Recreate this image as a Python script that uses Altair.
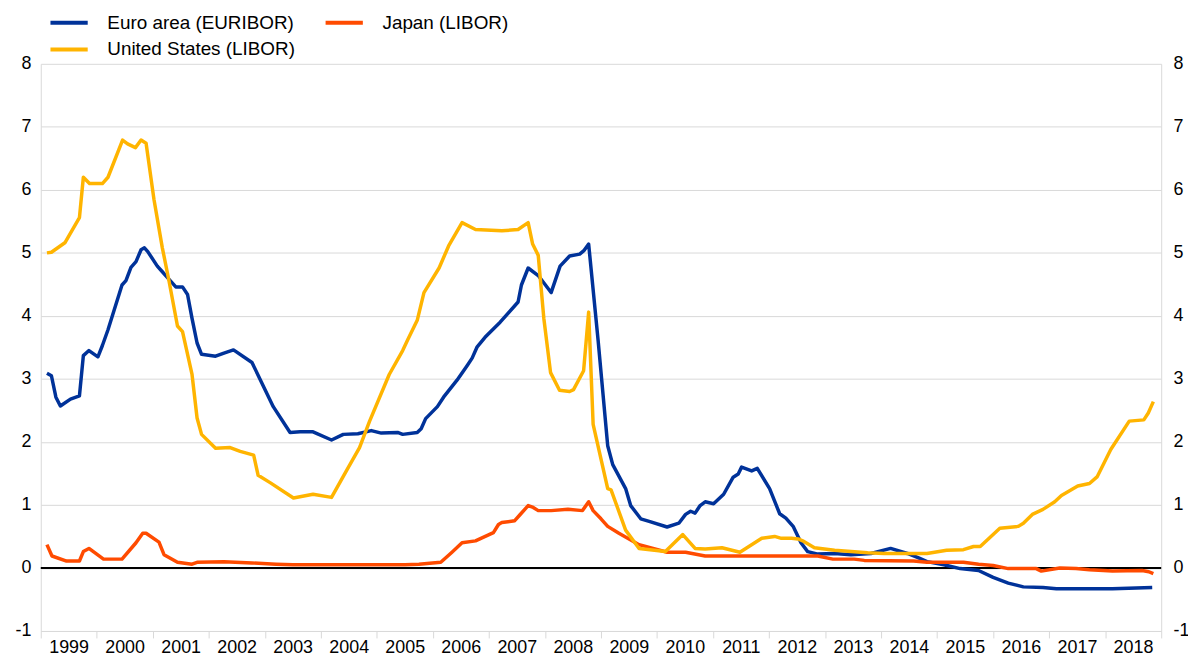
import altair as alt
import pandas as pd

SERIES = ["Euro area (EURIBOR)", "Japan (LIBOR)", "United States (LIBOR)"]
COLORS = ["#003299", "#FF4B00", "#FFB400"]
YEARS = list(range(1999, 2020))
Y_TICKS = list(range(-1, 9))

EURO_T = [1999.11, 1999.19, 1999.27, 1999.35, 1999.53, 1999.69, 1999.76, 1999.86, 2000.02, 2000.10,
          2000.20, 2000.45, 2000.52, 2000.61, 2000.70, 2000.79, 2000.85, 2000.91, 2001.08, 2001.17,
          2001.23, 2001.41, 2001.53, 2001.62, 2001.70, 2001.79, 2001.87, 2002.12, 2002.27, 2002.44,
          2002.77, 2003.15, 2003.45, 2003.63, 2003.86, 2004.19, 2004.40, 2004.66, 2004.90, 2005.08,
          2005.37, 2005.46, 2005.72, 2005.79, 2005.87, 2006.08, 2006.19, 2006.43, 2006.61, 2006.70,
          2006.79, 2006.93, 2007.20, 2007.52, 2007.58, 2007.70, 2007.88, 2008.11, 2008.27, 2008.44,
          2008.62, 2008.70, 2008.78, 2008.95, 2009.12, 2009.21, 2009.44, 2009.53, 2009.71, 2009.86,
          2010.18, 2010.39, 2010.51, 2010.60, 2010.68, 2010.77, 2010.86, 2011.01, 2011.19, 2011.36,
          2011.45, 2011.51, 2011.69, 2011.79, 2012.01, 2012.19, 2012.30, 2012.43, 2012.57, 2012.69,
          2012.87, 2013.17, 2013.46, 2013.82, 2014.17, 2014.47, 2014.67, 2014.82, 2015.12, 2015.41,
          2015.74, 2016.00, 2016.27, 2016.54, 2016.89, 2017.13, 2018.13, 2018.84]
EURO_V = [3.09, 3.05, 2.71, 2.57, 2.68, 2.73, 3.37, 3.45, 3.35, 3.53,
          3.78, 4.49, 4.56, 4.77, 4.86, 5.05, 5.08, 5.02, 4.79, 4.70,
          4.64, 4.46, 4.46, 4.34, 3.96, 3.57, 3.39, 3.36, 3.41, 3.46,
          3.26, 2.56, 2.15, 2.16, 2.16, 2.03, 2.12, 2.13, 2.18, 2.14,
          2.15, 2.12, 2.15, 2.21, 2.37, 2.56, 2.71, 2.98, 3.21, 3.33,
          3.51, 3.66, 3.90, 4.22, 4.49, 4.76, 4.64, 4.37, 4.79, 4.95,
          4.98, 5.04, 5.14, 3.60, 1.94, 1.64, 1.26, 0.99, 0.78, 0.74,
          0.65, 0.71, 0.85, 0.90, 0.87, 0.99, 1.05, 1.02, 1.17, 1.44,
          1.49, 1.60, 1.54, 1.58, 1.26, 0.86, 0.79, 0.66, 0.40, 0.26,
          0.22, 0.23, 0.21, 0.23, 0.31, 0.23, 0.16, 0.10, 0.05, -0.01,
          -0.04, -0.15, -0.24, -0.30, -0.31, -0.33, -0.33, -0.31]

US_T = [1999.11, 1999.19, 1999.43, 1999.69, 1999.76, 1999.87, 2000.10, 2000.20, 2000.46, 2000.55,
        2000.69, 2000.79, 2000.88, 2001.02, 2001.17, 2001.29, 2001.44, 2001.53, 2001.70, 2001.79,
        2001.87, 2002.12, 2002.38, 2002.56, 2002.80, 2002.88, 2003.10, 2003.51, 2003.86, 2004.19,
        2004.46, 2004.69, 2004.87, 2005.22, 2005.46, 2005.55, 2005.72, 2005.84, 2006.11, 2006.28,
        2006.52, 2006.76, 2007.23, 2007.52, 2007.70, 2007.78, 2007.88, 2007.98, 2008.10, 2008.26,
        2008.44, 2008.51, 2008.69, 2008.78, 2008.86, 2009.12, 2009.18, 2009.44, 2009.68, 2010.15,
        2010.46, 2010.68, 2010.86, 2011.16, 2011.48, 2011.87, 2012.10, 2012.22, 2012.40, 2012.52,
        2012.60, 2012.81, 2013.17, 2013.76, 2014.05, 2014.82, 2015.17, 2015.47, 2015.65, 2015.77,
        2016.12, 2016.45, 2016.54, 2016.70, 2016.89, 2017.10, 2017.22, 2017.51, 2017.72, 2017.86,
        2018.10, 2018.43, 2018.69, 2018.77, 2018.86]
US_V = [5.00, 5.01, 5.16, 5.56, 6.20, 6.10, 6.10, 6.20, 6.79, 6.73,
        6.67, 6.79, 6.74, 5.85, 5.08, 4.55, 3.84, 3.75, 3.07, 2.38,
        2.12, 1.90, 1.91, 1.85, 1.79, 1.47, 1.35, 1.11, 1.17, 1.12,
        1.55, 1.91, 2.33, 3.07, 3.45, 3.62, 3.93, 4.37, 4.76, 5.11,
        5.48, 5.37, 5.35, 5.37, 5.48, 5.14, 4.96, 3.96, 3.10, 2.82,
        2.80, 2.83, 3.13, 4.06, 2.28, 1.26, 1.24, 0.60, 0.31, 0.26,
        0.53, 0.31, 0.30, 0.32, 0.25, 0.47, 0.50, 0.47, 0.47, 0.46,
        0.43, 0.32, 0.28, 0.24, 0.23, 0.23, 0.28, 0.29, 0.34, 0.34,
        0.63, 0.66, 0.71, 0.85, 0.93, 1.05, 1.15, 1.30, 1.34, 1.45,
        1.88, 2.33, 2.35, 2.46, 2.64]

JP_T = [1999.11, 1999.20, 1999.46, 1999.69, 1999.76, 1999.86, 2000.12, 2000.45, 2000.70, 2000.82,
        2000.88, 2001.11, 2001.20, 2001.44, 2001.70, 2001.79, 2002.27, 2002.77, 2003.20, 2003.50,
        2005.50, 2005.75, 2006.14, 2006.34, 2006.52, 2006.76, 2007.08, 2007.17, 2007.23, 2007.46,
        2007.55, 2007.70, 2007.79, 2007.88, 2008.11, 2008.41, 2008.67, 2008.78, 2008.86, 2009.00,
        2009.12, 2009.32, 2009.68, 2010.18, 2010.51, 2010.86, 2012.87, 2013.14, 2013.52, 2013.70,
        2014.58, 2014.82, 2015.47, 2015.74, 2016.00, 2016.27, 2016.77, 2016.86, 2017.19, 2017.48,
        2017.72, 2018.13, 2018.66, 2018.78, 2018.86]
JP_V = [0.37, 0.19, 0.11, 0.11, 0.26, 0.31, 0.14, 0.14, 0.40, 0.55,
        0.55, 0.41, 0.21, 0.09, 0.06, 0.09, 0.10, 0.08, 0.06, 0.05,
        0.05, 0.06, 0.09, 0.25, 0.40, 0.43, 0.56, 0.69, 0.72, 0.75,
        0.84, 0.99, 0.96, 0.91, 0.91, 0.93, 0.91, 1.05, 0.91, 0.78,
        0.66, 0.55, 0.37, 0.25, 0.25, 0.19, 0.19, 0.14, 0.14, 0.12,
        0.11, 0.09, 0.09, 0.06, 0.04, -0.01, -0.01, -0.05, 0.00, -0.01,
        -0.03, -0.05, -0.04, -0.06, -0.09]

rows = []
for name, ts, vs in [(SERIES[0], EURO_T, EURO_V), (SERIES[1], JP_T, JP_V), (SERIES[2], US_T, US_V)]:
    for t, v in zip(ts, vs):
        rows.append({"series": name, "t": t, "v": v})
df = pd.DataFrame(rows)

GRID = "#d9d9d9"
FONT = "Liberation Sans"

yscale = alt.Scale(domain=[-1, 8], nice=False, zero=False)

x_enc = alt.X(
    "t:Q",
    scale=alt.Scale(domain=[1999, 2019], nice=False, zero=False),
    axis=alt.Axis(
        values=YEARS, format="d",
        labelExpr="datum.value < 2019 ? datum.label : ''",
        labelOffset=28, labelFlush=False, labelOverlap=False,
        ticks=True, tickSize=7, tickColor=GRID, tickWidth=1,
        domain=True, domainColor=GRID, grid=False,
        labelFontSize=18, labelColor="#000000", labelPadding=1, title=None,
    ),
)

lines = alt.Chart(df).mark_line(strokeWidth=3.5, strokeJoin="round").encode(
    x=x_enc,
    y=alt.Y("v:Q", scale=yscale,
            axis=alt.Axis(values=Y_TICKS, grid=True, gridColor=GRID, ticks=False,
                          labelExpr="'' + datum.value",
                          domain=True, domainColor=GRID, labelFontSize=18,
                          labelColor="#000000", labelPadding=10, title=None)),
    color=alt.Color(
        "series:N",
        scale=alt.Scale(domain=SERIES, range=COLORS),
        legend=alt.Legend(
            orient="none", legendX=19, legendY=-51, columns=2, direction="horizontal",
            symbolType="M-2.5,0H2.5", symbolSize=225, symbolStrokeWidth=4,
            labelFontSize=19, labelColor="#000000", labelOffset=29,
            columnPadding=21, rowPadding=7, title=None, labelLimit=400,
        ),
    ),
    order=alt.Order("t:Q"),
)

zero = alt.Chart(pd.DataFrame({"v": [0]})).mark_rule(color="#000000", strokeWidth=2).encode(
    y=alt.Y("v:Q", scale=yscale, axis=None)
)

right = alt.Chart(pd.DataFrame({"v": [0]})).mark_rule(opacity=0).encode(
    y=alt.Y("v:Q", scale=alt.Scale(domain=[-1, 8], nice=False, zero=False),
            axis=alt.Axis(orient="right", values=Y_TICKS, grid=False, ticks=False,
                          labelExpr="'' + datum.value",
                          domain=True, domainColor=GRID, labelFontSize=18,
                          labelColor="#000000", labelPadding=12, title=None))
)

chart = alt.layer(zero, lines, right).resolve_scale(y="independent").properties(
    width=1128, height=571,
    padding={"left": 33, "top": 54, "right": 27, "bottom": 24},
    autosize=alt.AutoSizeParams(type="none"),
).configure(font=FONT).configure_view(stroke=None)

chart.save("out.html", embed_options={"renderer": "svg", "actions": False})
